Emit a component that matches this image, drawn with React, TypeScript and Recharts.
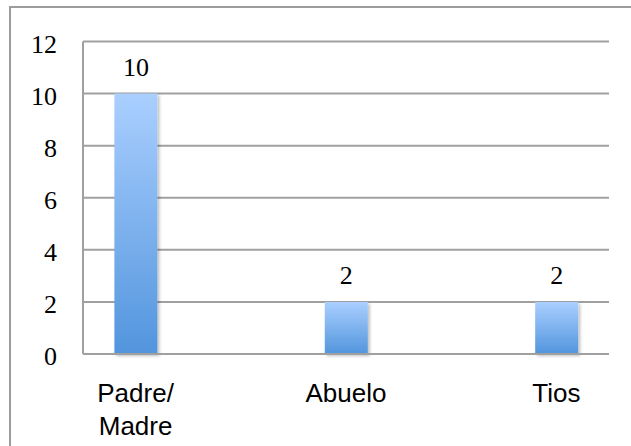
import React from "react";
import { BarChart, Bar, XAxis, YAxis, CartesianGrid, LabelList } from "recharts";

const categories = ["Padre/\nMadre", "Abuelo", "Tios"];
const values = [10, 2, 2];
const yTicks = [0, 2, 4, 6, 8, 10, 12];

const data = categories.map((name, i) => ({ pos: i, name, value: values[i] }));

const GRID = "#a0a0a0";

function CategoryTick(props: any) {
  const { x, y, payload } = props;
  const label = categories[payload.value] ?? "";
  const lines = label.split("\n");
  return (
    <text
      x={x}
      y={y + 47.5}
      textAnchor="middle"
      fill="#000"
      style={{ fontFamily: "'Liberation Sans', Arial, sans-serif", fontSize: 26 }}
    >
      {lines.map((line, i) => (
        <tspan key={line} x={x} dy={i === 0 ? 0 : 33.5}>
          {line}
        </tspan>
      ))}
    </text>
  );
}

export default function App() {
  return (
    <div style={{ position: "absolute", left: 0, top: 0, width: 631, height: 446, background: "#fff", overflow: "hidden" }}>
      <div
        style={{
          position: "absolute",
          left: 9,
          top: 6,
          width: 640,
          height: 460,
          borderTop: "2px solid #9c9c9c",
          borderLeft: "2px solid #9c9c9c",
        }}
      />
      <BarChart
        width={631}
        height={446}
        data={data}
        margin={{ top: 41.5, right: 22, bottom: 32, left: 0 }}
        style={{ position: "absolute", left: 0, top: 0 }}
      >
        <defs>
          <linearGradient id="barFill" x1="0" y1="0" x2="0" y2="1">
            <stop offset="0%" stopColor="#aacfff" />
            <stop offset="100%" stopColor="#5295dd" />
          </linearGradient>
          <filter id="barShadow" x="-20%" y="-5%" width="150%" height="115%">
            <feDropShadow dx="2" dy="2" stdDeviation="1.5" floodColor="#000" floodOpacity="0.25" />
          </filter>
        </defs>
        <CartesianGrid vertical={false} stroke={GRID} strokeWidth={2} />
        <XAxis
          type="number"
          dataKey="pos"
          domain={[-0.25, 2.25]}
          ticks={[0, 1, 2]}
          allowDataOverflow
          height={60}
          axisLine={{ stroke: GRID, strokeWidth: 2 }}
          tickLine={false}
          tickSize={0}
          tickMargin={0}
          tick={<CategoryTick />}
        />
        <YAxis
          width={83}
          domain={[0, 12]}
          ticks={yTicks}
          axisLine={{ stroke: GRID, strokeWidth: 2 }}
          tickLine={false}
          tickSize={0}
          tickMargin={26}
          tick={{ fill: "#000", fontSize: 26, fontFamily: "'Liberation Serif', 'Times New Roman', serif", dy: 2 }}
        />
        <Bar dataKey="value" barSize={43} fill="url(#barFill)" filter="url(#barShadow)" isAnimationActive={false}>
          <LabelList
            dataKey="value"
            position="top"
            offset={18}
            fill="#000"
            style={{ fontSize: 26, fontFamily: "'Liberation Serif', 'Times New Roman', serif" }}
          />
        </Bar>
      </BarChart>
    </div>
  );
}
